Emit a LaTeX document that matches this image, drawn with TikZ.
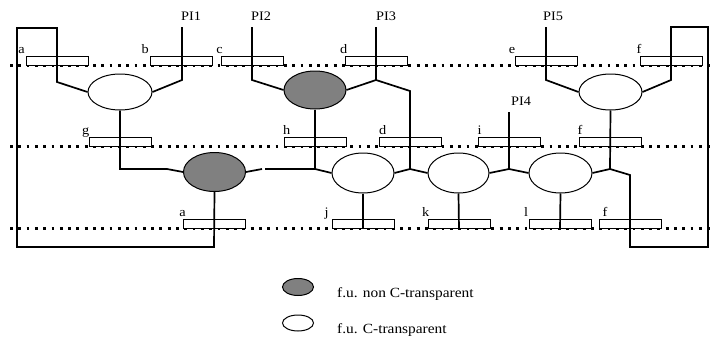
\documentclass[tikz,border=0pt]{standalone}
\usepackage{fontspec}
\setmainfont{Liberation Serif}[FakeStretch=1.1]
\usetikzlibrary{shapes.geometric,calc}
\definecolor{fugray}{RGB}{128,128,128}
\begin{document}
\begin{tikzpicture}[x=1pt,y=-1pt,
  fu/.style={ellipse,draw,line width=1pt,inner sep=0pt,fill=white},
  fun/.style={fu,fill=fugray},
  reg/.style={rectangle,draw,line width=0.8pt,fill=white,minimum width=62pt,minimum height=9.5pt,inner sep=0pt},
  scan/.style={line width=3pt,dash pattern=on 2.8pt off 5.5pt},
  conn/.style={line width=1.7pt},
  lab/.style={font=\fontsize{13}{13}\selectfont,anchor=base,inner sep=0pt},
  pilab/.style={font=\fontsize{13}{13}\selectfont,anchor=base west,inner sep=0pt},
  legtext/.style={font=\fontsize{14}{14}\selectfont,anchor=base west,inner sep=0pt}]
\useasboundingbox (0,0) rectangle (718,340);

% scan chains
\coordinate (s1l) at (10,65);  \coordinate (s1r) at (713,65);
\coordinate (s2l) at (10,146); \coordinate (s2r) at (713,146);
\coordinate (s3l) at (10,228); \coordinate (s3r) at (713,228);
\draw[scan] (s1l) -- (s1r);
\draw[scan] (s2l) -- (s2r);
\draw[scan] (s3l) -- (s3r);

% registers
\node[reg] (a1) at (57,60.75)  {};
\node[reg] (b)  at (181,60.75) {};
\node[reg] (c)  at (252,60.75) {};
\node[reg] (d1) at (376,60.75) {};
\node[reg] (e)  at (546,60.75) {};
\node[reg] (f1) at (671,60.75) {};
\node[reg] (g)  at (120,141.75) {};
\node[reg] (h)  at (315,141.75) {};
\node[reg] (d2) at (410,141.75) {};
\node[reg] (i)  at (509,141.75) {};
\node[reg] (f2) at (610,141.75) {};
\node[reg] (a3) at (214,223.75) {};
\node[reg] (j)  at (363,223.75) {};
\node[reg] (k)  at (459,223.75) {};
\node[reg] (l)  at (560,223.75) {};
\node[reg] (f3) at (630,223.75) {};

% register labels
\node[lab] at ([xshift=-4pt,yshift=2pt]a1.north west) {a};
\node[lab] at ([xshift=-4.5pt,yshift=2pt]b.north west) {b};
\node[lab] at ([xshift=-1pt,yshift=2pt]c.north west) {c};
\node[lab] at ([xshift=-1pt,yshift=2pt]d1.north west) {d};
\node[lab] at ([xshift=-2.5pt,yshift=2pt]e.north west) {e};
\node[lab] at ([xshift=-0.5pt,yshift=2pt]f1.north west) {f};
\node[lab] at ([xshift=-3pt,yshift=2pt]g.north west) {g};
\node[lab] at ([xshift=3pt,yshift=2pt]h.north west) {h};
\node[lab] at ([xshift=4pt,yshift=2pt]d2.north west) {d};
\node[lab] at ([xshift=2pt,yshift=2pt]i.north west) {i};
\node[lab] at ([xshift=1.5pt,yshift=2pt]f2.north west) {f};
\node[lab] at ([xshift=0pt,yshift=2pt]a3.north west) {a};
\node[lab] at ([xshift=-5pt,yshift=2pt]j.north west) {j};
\node[lab] at ([xshift=-2pt,yshift=2pt]k.north west) {k};
\node[lab] at ([xshift=-2.5pt,yshift=2pt]l.north west) {l};
\node[lab] at ([xshift=6.5pt,yshift=2pt]f3.north west) {f};

% functional units
\node[fu]  (E1) at (120,92)    [minimum width=64pt,minimum height=36pt] {};
\node[fun] (E2) at (315,90)    [minimum width=62pt,minimum height=38pt] {};
\node[fu]  (E3) at (610.5,92)  [minimum width=63pt,minimum height=36pt] {};
\node[fun] (E4) at (214.5,172) [minimum width=62pt,minimum height=39pt] {};
\node[fu]  (E5) at (363,173)   [minimum width=62pt,minimum height=40pt] {};
\node[fu]  (E6) at (458.5,173) [minimum width=61pt,minimum height=40pt] {};
\node[fu]  (E7) at (560.5,173) [minimum width=63pt,minimum height=40pt] {};

% primary inputs
\coordinate (pi1) at (182,27);
\coordinate (pi2) at (252,27);
\coordinate (pi3) at (376,27);
\coordinate (pi5) at (546,27);
\coordinate (pi4) at (509,112);
\node[pilab] at (181,20) {PI1};
\node[pilab] at (251,20) {PI2};
\node[pilab] at (376,20) {PI3};
\node[pilab] at (543,20) {PI5};
\node[pilab] at (511,105) {PI4};

% junctions and bends
\coordinate (ja1) at (57,82);
\coordinate (jb)  at (182,80);
\coordinate (jc)  at (252,80);
\coordinate (jd)  at (376,80);
\coordinate (jd2) at (410,91);
\coordinate (je)  at (546,80);
\coordinate (jf1) at (671,80);
\coordinate (jg)  at (120,169);
\coordinate (jg2) at (167,169);
\coordinate (jh)  at (315,169);
\coordinate (jx)  at (262,169);
\coordinate (jx2) at (265,169);
\coordinate (jdd) at (410,169);
\coordinate (ji)  at (509,169);
\coordinate (jf)  at (610,169);
\coordinate (jf3) at (630,175);
\coordinate (la1) at (57,28);
\coordinate (la2) at (17,28);
\coordinate (la3) at (17,247);
\coordinate (la4) at (214,247);
\coordinate (lf1) at (630,247);
\coordinate (lf2) at (708,247);
\coordinate (lf3) at (708,27);
\coordinate (lf4) at (671,27);

% connections
\draw[conn] (E1.west) -- (ja1) -- (la1) -- (la2) -- (la3) -- (la4) -- (E4.south);
\draw[conn] (pi1) -- (jb) -- (E1.east);
\draw[conn] (E1.south) -- (jg) -- (jg2) -- (E4.west);
\draw[conn] (pi2) -- (jc) -- (E2.west);
\draw[conn] (pi3) -- (jd) -- (E2.east);
\draw[conn] (jd) -- (jd2) -- (jdd);
\draw[conn] (E2.south) -- (jh);
\draw[conn] (E4.east) -- (jx);
\draw[conn] (jx2) -- (jh) -- (E5.west);
\draw[conn] (E5.east) -- (jdd) -- (E6.west);
\draw[conn] (E5.south) -- (j.south);
\draw[conn] (E6.south) -- (k.south);
\draw[conn] (pi4) -- (ji);
\draw[conn] (E6.east) -- (ji) -- (E7.west);
\draw[conn] (E7.south) -- (l.south);
\draw[conn] (pi5) -- (je) -- (E3.west);
\draw[conn] (E3.east) -- (jf1) -- (lf4) -- (lf3) -- (lf2) -- (lf1) -- (jf3) -- (jf);
\draw[conn] (E3.south) -- (jf) -- (E7.east);

% legend
\node[fun] (L1) at (298,287) [minimum width=31pt,minimum height=17pt] {};
\node[fu]  (L2) at (298,323) [minimum width=31pt,minimum height=16pt] {};
\node[legtext] at (337,297) {f.u. non C-transparent};
\node[legtext] at (337,333) {f.u. C-transparent};
\end{tikzpicture}
\end{document}
